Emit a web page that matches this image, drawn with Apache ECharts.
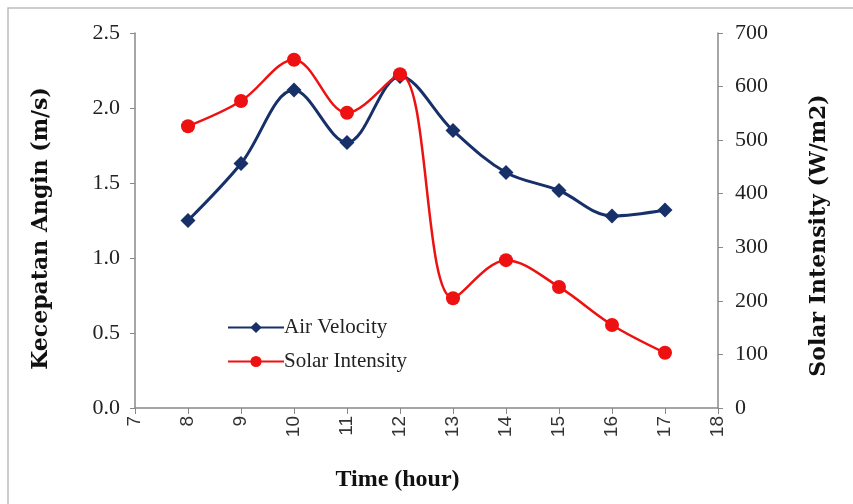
<!DOCTYPE html>
<html><head><meta charset="utf-8">
<script src="https://cdn.jsdelivr.net/npm/echarts@6/dist/echarts.min.js"></script>
<style>html,body{margin:0;padding:0;background:#fff}#c{width:853px;height:504px}</style>
</head><body><div id="c"></div>
<script>
const hours = [8, 9, 10, 11, 12, 13, 14, 15, 16, 17];
const airVelocity = [1.25, 1.63, 2.12, 1.77, 2.21, 1.85, 1.57, 1.45, 1.28, 1.32];
const solarIntensity = [526, 573, 650, 551, 623, 205, 276, 226, 155, 103];
const seriesNames = ['Air Velocity', 'Solar Intensity'];

const chart = echarts.init(document.getElementById('c'));
const serif = '"Liberation Serif", "Times New Roman", serif';
const wideSerif = '"DejaVu Serif", serif';
chart.setOption({
  animation: false,
  backgroundColor: '#fff',
  graphic: [{type: 'rect', shape: {x: 8, y: 8, width: 860, height: 510}, style: {fill: 'none', stroke: '#bdbdbd', lineWidth: 1.5}, silent: true}],
  grid: {left: 135, right: 135, top: 33, bottom: 96},
  legend: {
    orient: 'vertical', left: 222, top: 312, itemGap: 13, itemWidth: 56, itemHeight: 14,
    textStyle: {fontFamily: serif, fontSize: 21, color: '#222', padding: [0, 0, 0, -5]},
    data: seriesNames
  },
  xAxis: {
    type: 'value', min: 7, max: 18, interval: 1,
    name: 'Time (hour)', nameLocation: 'middle', nameGap: 60,
    nameTextStyle: {fontFamily: serif, fontWeight: 'bold', fontSize: 24, color: '#111', padding: [0, 58, 0, 0]},
    axisLine: {lineStyle: {color: '#888', width: 1.5}},
    axisTick: {show: true, length: 6, lineStyle: {color: '#888'}},
    axisLabel: {rotate: 90, fontFamily: '"Liberation Sans", Arial, sans-serif', fontSize: 19, color: '#333', margin: 8},
    splitLine: {show: false}
  },
  yAxis: [{
    type: 'value', min: 0, max: 2.5, interval: 0.5, position: 'left',
    name: 'Kecepatan Angin (m/s)', nameLocation: 'middle', nameGap: 83, nameRotate: 90,
    nameTextStyle: {fontFamily: wideSerif, fontWeight: 'bold', fontSize: 22, color: '#111', padding: [0, 16, 0, 0]},
    axisLine: {show: true, lineStyle: {color: '#888', width: 1.5}},
    axisTick: {show: true, length: 5, lineStyle: {color: '#888'}},
    axisLabel: {formatter: v => v.toFixed(1), fontFamily: serif, fontSize: 22, color: '#222', margin: 15},
    splitLine: {show: false}
  }, {
    type: 'value', min: 0, max: 700, interval: 100, position: 'right',
    name: 'Solar Intensity (W/m2)', nameLocation: 'middle', nameGap: 90, nameRotate: 90,
    nameTextStyle: {fontFamily: wideSerif, fontWeight: 'bold', fontSize: 22, color: '#111', padding: [0, 30, 0, 0]},
    axisLine: {show: true, lineStyle: {color: '#888', width: 1.5}},
    axisTick: {show: true, length: 5, lineStyle: {color: '#888'}},
    axisLabel: {fontFamily: serif, fontSize: 22, color: '#222', margin: 17},
    splitLine: {show: false}
  }],
  series: [{
    name: seriesNames[0], type: 'line', yAxisIndex: 0, smooth: 0.35,
    data: hours.map((h, i) => [h, airVelocity[i]]),
    symbol: 'diamond', symbolSize: 15,
    lineStyle: {color: '#17306a', width: 3},
    itemStyle: {color: '#17306a'}
  }, {
    name: seriesNames[1], type: 'line', yAxisIndex: 1, smooth: 0.35,
    data: hours.map((h, i) => [h, solarIntensity[i]]),
    symbol: 'circle', symbolSize: 14,
    lineStyle: {color: '#ee1111', width: 2.5},
    itemStyle: {color: '#ee1111'}
  }]
});
</script></body></html>
